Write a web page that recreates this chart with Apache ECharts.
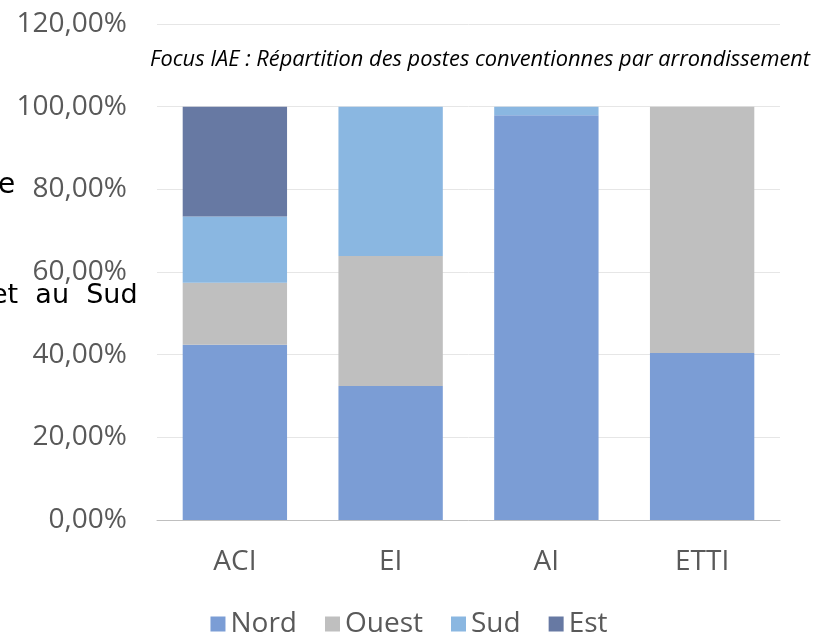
<!DOCTYPE html>
<html>
<head>
<meta charset="utf-8">
<script src="https://cdn.jsdelivr.net/npm/echarts@6/dist/echarts.min.js"></script>
<style>
  html, body { margin: 0; padding: 0; background: #fff; }
  #chart { width: 818px; height: 633px; }
</style>
</head>
<body>
<div id="chart"></div>
<script>
// categories and shares (in %)
var categories = ["ACI", "EI", "AI", "ETTI"];
var nord  = [42.4, 32.4, 97.9, 40.4];
var ouest = [15.0, 31.5, 0, 59.6];
var sud   = [16.0, 36.1, 2.1, 0];
var est   = [26.6, 0, 0, 0];
var seriesNames = ["Nord", "Ouest", "Sud", "Est"];
var colors = ["#7b9dd5", "#bfbfbf", "#8ab7e1", "#6779a3"];

var chart = echarts.init(document.getElementById("chart"));

var font = "'Open Sans', sans-serif";
var values = [nord, ouest, sud, est];
var series = [];
for (var i = 0; i < seriesNames.length; i++) {
  series.push({
    name: seriesNames[i],
    type: "bar",
    stack: "total",
    barWidth: "67%",
    itemStyle: { color: colors[i] },
    data: values[i]
  });
}

chart.setOption({
  animation: false,
  title: {
    text: "Focus IAE : Répartition des postes conventionnes par arrondissement",
    left: 145,
    top: 44,
    textStyle: {
      fontFamily: font,
      fontStyle: "italic",
      fontWeight: "normal",
      fontSize: 21.8,
      color: "#000"
    }
  },
  legend: {
    data: seriesNames,
    bottom: -10,
    left: "center",
    icon: "rect",
    itemWidth: 15,
    itemHeight: 15,
    itemGap: 28,
    textStyle: { fontFamily: font, fontSize: 28, color: "#595959" }
  },
  grid: { left: 157, right: 38, top: 24, bottom: 113 },
  xAxis: {
    type: "category",
    data: categories,
    axisTick: { show: false },
    axisLine: { lineStyle: { color: "#bfbfbf", width: 1 } },
    axisLabel: { fontFamily: font, fontSize: 28, color: "#595959", margin: 28 }
  },
  yAxis: {
    type: "value",
    min: 0,
    max: 120,
    interval: 20,
    axisLine: { show: false },
    axisTick: { show: false },
    splitLine: { lineStyle: { color: "#e6e6e6" } },
    axisLabel: {
      fontFamily: font,
      fontSize: 28,
      color: "#595959",
      margin: 30,
      formatter: function (v) { return v.toFixed(2).replace(".", ",") + "%"; }
    }
  },
  graphic: [
    { type: "text", left: -2, top: 172, style: { text: "e", font: "28px 'DejaVu Sans'", fill: "#000" } },
    { type: "text", left: -9, top: 282, style: { text: "et  au  Sud", font: "27px 'DejaVu Sans'", fill: "#000" } }
  ],
  series: series
});
</script>
</body>
</html>
